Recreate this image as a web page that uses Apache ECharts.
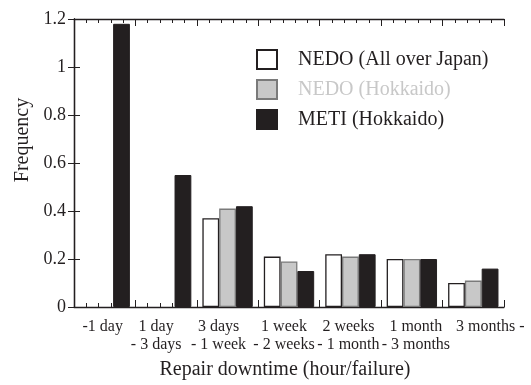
<!DOCTYPE html>
<html>
<head>
<meta charset="utf-8">
<script src="https://cdn.jsdelivr.net/npm/echarts@6/dist/echarts.min.js"></script>
<style>
  html, body { margin: 0; padding: 0; background: #fff; }
  #chart { width: 531px; height: 385px; }
</style>
</head>
<body>
<div id="chart"></div>
<script>
// Repair downtime classes (x axis)
const categories = ['-1 day', '1 day\n- 3 days', '3 days\n- 1 week', '1 week\n- 2 weeks',
                    '2 weeks\n- 1 month', '1 month\n- 3 months', '3 months -'];
// Frequency per class; '-' = no bar in that class
const nedoJapan    = ['-', '-', 0.37, 0.21, 0.22, 0.20, 0.10];
const nedoHokkaido = ['-', '-', 0.41, 0.19, 0.21, 0.20, 0.11];
const metiHokkaido = [1.18, 0.55, 0.42, 0.15, 0.22, 0.20, 0.16];
const seriesNames  = ['NEDO (All over Japan)', 'NEDO (Hokkaido)', 'METI (Hokkaido)'];
const yTicks = [0, 0.2, 0.4, 0.6, 0.8, 1, 1.2];

// label placement tweaks (px, negative = left)
const labelNudge = [-2, -10, -9, -5, -2, 4, 17];

const FONT = '"Liberation Serif", "Times New Roman", serif';
const INK = '#231f20';

const chart = echarts.init(document.getElementById('chart'), null, { renderer: 'canvas' });

const catData = categories.map((c, i) => {
  const d = labelNudge[i];
  return {
    value: c,
    textStyle: { padding: d < 0 ? [0, -2 * d, 0, 0] : [0, 0, 0, 2 * d] }
  };
});

const tickAxis = (pos) => ({
  type: 'value', position: pos, min: 0, max: 7, interval: 1,
  axisLine: { show: true, lineStyle: { color: INK, width: 1.3 } },
  axisTick: { show: true, inside: true, length: 7, lineStyle: { color: INK, width: 1 } },
  minorTick: { show: true, splitNumber: 5, length: 4, lineStyle: { color: INK, width: 1 } },
  axisLabel: { show: false }, splitLine: { show: false }, minorSplitLine: { show: false }
});

const yBase = (pos) => ({
  type: 'value', position: pos, min: yTicks[0], max: yTicks[yTicks.length - 1], interval: 0.2,
  axisLine: { show: true, lineStyle: { color: INK, width: 1.3 } },
  axisTick: { show: true, inside: true, length: 6, lineStyle: { color: INK, width: 1 } },
  splitLine: { show: false }
});

chart.setOption({
  animation: false,
  backgroundColor: '#fff',
  textStyle: { fontFamily: FONT, color: INK },
  grid: { left: 74, right: 27, top: 19, bottom: 78 },
  legend: {
    orient: 'vertical', left: 251, top: 44,
    itemWidth: 20, itemHeight: 19, itemGap: 9, icon: 'rect',
    textStyle: { fontFamily: FONT, fontSize: 20, color: INK, padding: [0, 0, 0, 16], lineHeight: 20 },
    data: [
      { name: seriesNames[0] },
      { name: seriesNames[1], textStyle: { color: '#c8c8c8' } },
      { name: seriesNames[2] }
    ]
  },
  xAxis: [
    {
      type: 'category', data: catData, position: 'bottom',
      axisLine: { show: false }, axisTick: { show: false },
      axisLabel: { fontFamily: FONT, fontSize: 16, color: INK, margin: 11, lineHeight: 18, interval: 0 },
      name: 'Repair downtime (hour/failure)', nameLocation: 'middle', nameGap: 53,
      nameTextStyle: { fontFamily: FONT, fontSize: 20, color: INK, padding: [0, 8, 0, 0] }
    },
    Object.assign(tickAxis('bottom'), {}),
    Object.assign(tickAxis('top'), {})
  ],
  yAxis: [
    Object.assign(yBase('left'), {
      axisLabel: { fontFamily: FONT, fontSize: 18, color: INK, margin: 8 },
      name: 'Frequency', nameLocation: 'middle', nameGap: 40,
      nameTextStyle: { fontFamily: FONT, fontSize: 20, color: INK, padding: [0, 0, 0, 46] }
    }),
    Object.assign(yBase('right'), { axisLabel: { show: false } })
  ],
  series: [
    {
      name: seriesNames[0], type: 'bar', data: nedoJapan,
      barGap: '0%', barCategoryGap: '18%',
      itemStyle: { color: '#ffffff', borderColor: INK, borderWidth: 1.3 }
    },
    {
      name: seriesNames[1], type: 'bar', data: nedoHokkaido,
      itemStyle: { color: '#c8c8c8', borderColor: '#7a7a7a', borderWidth: 1.3 }
    },
    {
      name: seriesNames[2], type: 'bar', data: metiHokkaido,
      itemStyle: { color: INK, borderColor: INK, borderWidth: 1 }
    }
  ]
});
</script>
</body>
</html>
